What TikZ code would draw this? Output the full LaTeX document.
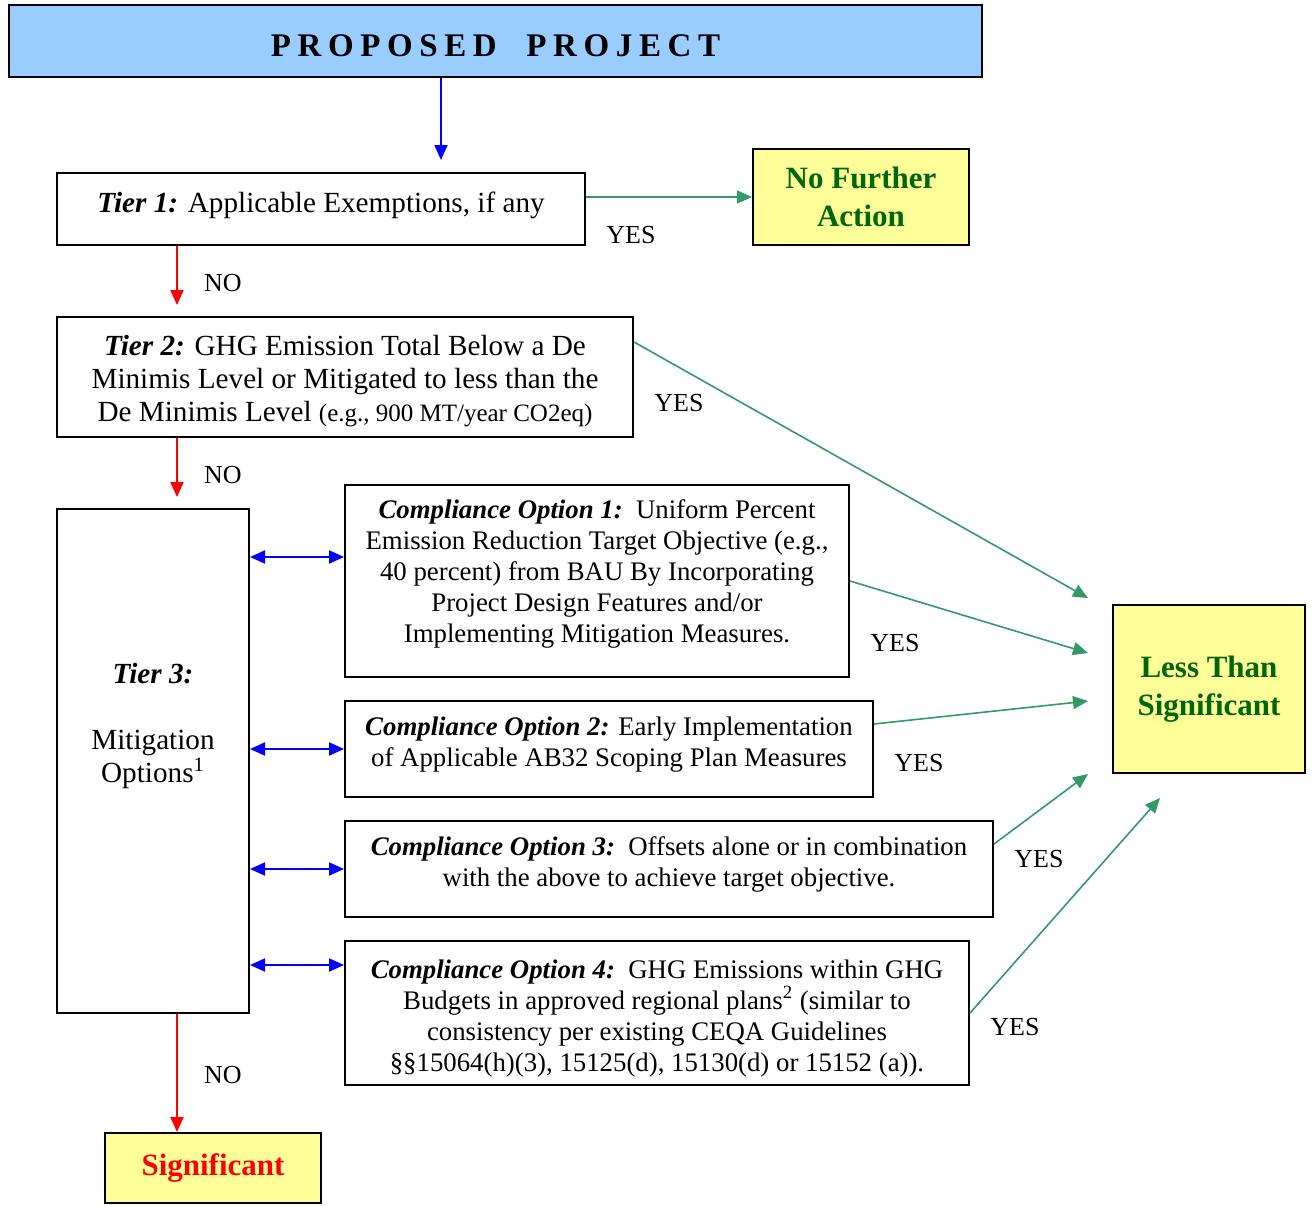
\documentclass[tikz,border=0pt]{standalone}
\usepackage{fontspec}
\setmainfont{Liberation Serif}
\newfontfamily\spacedfont[LetterSpace=20]{Liberation Serif}
\usetikzlibrary{arrows.meta}
\definecolor{skyblue}{HTML}{99CCFF}
\definecolor{paleyellow}{HTML}{FFFF99}
\definecolor{darkgreen}{HTML}{006600}
\definecolor{yesgreen}{HTML}{339966}
\begin{document}
\begin{tikzpicture}[x=0.5pt,y=-0.5pt,>={Triangle[length=7.5pt,width=6.5pt]},
	box/.style={draw,line width=1pt,inner sep=0pt,align=center,font=\fontsize{13.4}{15.5}\selectfont},
	tier/.style={box,font=\fontsize{14.6}{16.5}\selectfont},
	result/.style={draw,line width=1pt,inner sep=0pt,align=center,fill=paleyellow,font=\fontsize{15.5}{19}\selectfont\bfseries},
	lbl/.style={inner sep=0pt,font=\fontsize{13}{15}\selectfont},
	go/.style={draw=blue,line width=1pt,->},
	link/.style={draw=blue,line width=1pt,<->},
	no/.style={draw=red,line width=1pt,->},
	yes/.style={draw=yesgreen,line width=0.8pt,->}]
	\useasboundingbox (0,0) rectangle (1312,1205);
	\node[box,fill=skyblue,minimum width=486.5pt,minimum height=36pt,text height=15pt,text depth=0pt] (proj) at (495.5,41) {\fontsize{16.5}{20}\selectfont\spacedfont\bfseries PROPOSED\ \ PROJECT};
	\node[tier,minimum width=264pt,minimum height=36pt,text height=10pt,text depth=7pt] (tier1) at (321,209) {\textbf{\textit{Tier 1:}} Applicable Exemptions, if any};
	\node[result,text=darkgreen,minimum width=108pt,minimum height=48pt] (nfa) at (861,197) {No Further\\Action};
	\node[tier,minimum width=288pt,minimum height=60pt] (tier2) at (345,377) {\rule{0pt}{14pt}\textbf{\textit{Tier 2:}} GHG Emission Total Below a De\\Minimis Level or Mitigated to less than the\\De Minimis Level {\fontsize{12.5}{16.5}\selectfont(e.g., 900 MT/year CO2eq)}};
	\node[tier,minimum width=96pt,minimum height=252pt] (tier3) at (153,761) {\textbf{\textit{Tier 3:}}\\[16.5pt]Mitigation\\Options\textsuperscript{1}\\[22pt]\mbox{}};
	\node[box,minimum width=252pt,minimum height=96pt] (opt1) at (597,581) {\textbf{\textit{Compliance Option 1:}}\ \ Uniform Percent\\Emission Reduction Target Objective (e.g.,\\40 percent) from BAU By Incorporating\\Project Design Features and/or\\Implementing Mitigation Measures.\\[-6pt]\mbox{}};
	\node[box,minimum width=264pt,minimum height=48pt] (opt2) at (609,749) {\textbf{\textit{Compliance Option 2:}} Early Implementation\\of Applicable AB32 Scoping Plan Measures\\[-8.5pt]\mbox{}};
	\node[box,minimum width=324pt,minimum height=48pt] (opt3) at (669,869) {\textbf{\textit{Compliance Option 3:}}\ \ Offsets alone or in combination\\with the above to achieve target objective.\\[-8.5pt]\mbox{}};
	\node[box,minimum width=312pt,minimum height=72pt] (opt4) at (657,1013) {\rule{0pt}{14.5pt}\textbf{\textit{Compliance Option 4:}}\ \ GHG Emissions within GHG\\Budgets in approved regional plans\textsuperscript{2} (similar to\\consistency per existing CEQA Guidelines\\\S\S15064(h)(3), 15125(d), 15130(d) or 15152 (a)).};
	\node[result,text=darkgreen,minimum width=96pt,minimum height=84pt] (lts) at (1209,689) {Less Than\\Significant};
	\node[result,text=red,minimum width=108pt,minimum height=35pt] (sig) at (213,1168) {Significant};
	\coordinate (t1top) at (441,160);
	\coordinate (no1end) at (177,305);
	\coordinate (no2end) at (177,497);
	\coordinate (no3end) at (177,1132);
	\coordinate (lts1) at (1088,598);
	\coordinate (lts2) at (1088,653);
	\coordinate (lts3) at (1088,701);
	\coordinate (lts4) at (1088,774);
	\coordinate (lts5) at (1160,798);
	\coordinate (o1l) at ([yshift=12pt]opt1.west);
	\coordinate (o4l) at ([yshift=24pt]opt4.west);
	\draw[go] (proj.south -| t1top) -- (t1top);
	\draw[yes] (tier1.east |- nfa.west) -- (nfa.west);
	\draw[no] (tier1.south -| no1end) -- (no1end);
	\draw[yes] ([yshift=-13pt]tier2.north east) -- (lts1);
	\draw[no] (tier2.south -| no2end) -- (no2end);
	\draw[link] (tier3.east |- o1l) -- (o1l);
	\draw[link] (tier3.east |- opt2.west) -- (opt2.west);
	\draw[link] (tier3.east |- opt3.west) -- (opt3.west);
	\draw[link] (tier3.east |- o4l) -- (o4l);
	\draw[yes] (opt1.east) -- (lts2);
	\draw[yes] ([yshift=12.5pt]opt2.east) -- (lts3);
	\draw[yes] ([yshift=12.5pt]opt3.east) -- (lts4);
	\draw[yes] (opt4.east) -- (lts5);
	\draw[no] (tier3.south -| no3end) -- (no3end);
	\node[lbl] (yes1) at (631,235) {YES};
	\node[lbl] (no1) at (223,283) {NO};
	\node[lbl] (yes2) at (679,403) {YES};
	\node[lbl] (no2) at (223,475) {NO};
	\node[lbl] (yes3) at (895,643) {YES};
	\node[lbl] (yes4) at (919,763) {YES};
	\node[lbl] (yes5) at (1039,859) {YES};
	\node[lbl] (yes6) at (1015,1027) {YES};
	\node[lbl] (no3) at (223,1075) {NO};
\end{tikzpicture}
\end{document}
